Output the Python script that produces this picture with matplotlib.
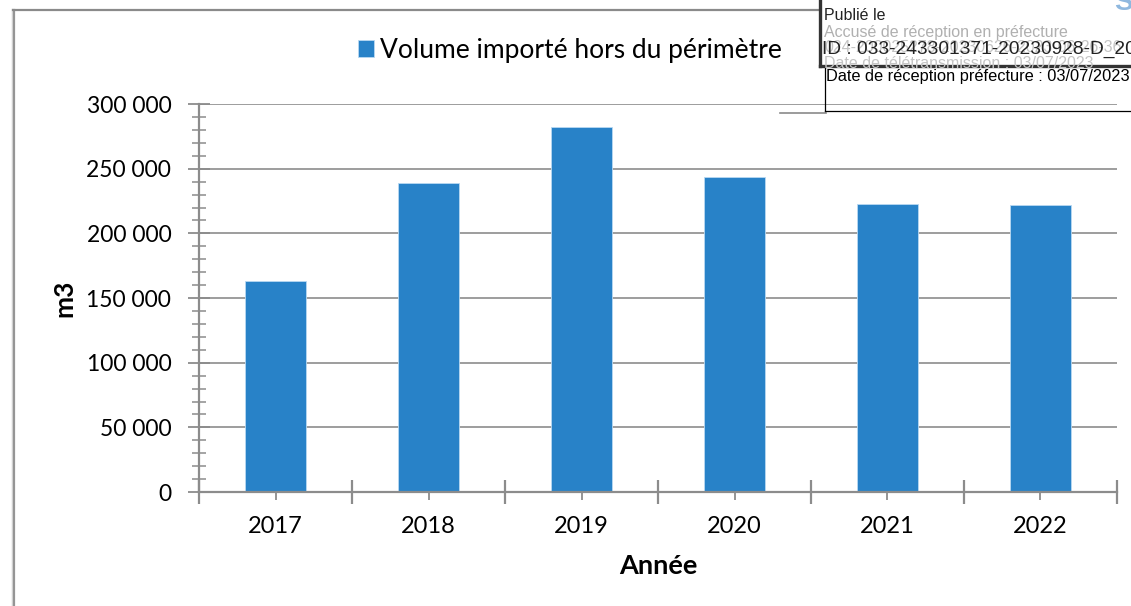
import matplotlib.pyplot as plt
from matplotlib.lines import Line2D
from matplotlib.ticker import FuncFormatter, MultipleLocator, FixedLocator

annees = ["2017", "2018", "2019", "2020", "2021", "2022"]
volumes = [163000, 239200, 282500, 243300, 222700, 221700]
serie = "Volume importé hors du périmètre"
y_ticks = [0, 50000, 100000, 150000, 200000, 250000, 300000]

bleu = "#2882c8"
gris = "#8c8c8c"

plt.rcParams["font.family"] = ["Lato", "DejaVu Sans"]

fig = plt.figure(figsize=(11.31, 6.06), dpi=100)
ax = fig.add_axes([0.176, 0.188, 0.8116, 0.6402])

x = range(len(annees))
ax.bar(x, volumes, width=0.4, color=bleu, edgecolor="#b9d9f2", linewidth=0.6,
       label=serie, zorder=3)

ax.set_xlim(-0.5, len(annees) - 0.5)
ax.set_ylim(0, 300000)
ax.set_yticks(y_ticks)
ax.yaxis.set_minor_locator(MultipleLocator(10000))
ax.yaxis.set_major_formatter(FuncFormatter(lambda v, p: f"{int(v):,}".replace(",", " ")))
ax.grid(axis="y", color=gris, linewidth=1.2, zorder=0)

# labels at category centres, long ticks at category boundaries
ax.set_xticks(list(x))
ax.set_xticklabels(annees)
ax.xaxis.set_minor_locator(FixedLocator([i - 0.5 for i in range(len(annees) + 1)]))

for s in ["top", "right"]:
    ax.spines[s].set_visible(False)
for s in ["left", "bottom"]:
    ax.spines[s].set_color(gris)
    ax.spines[s].set_linewidth(1.6)
    ax.spines[s].set_zorder(4)

ax.tick_params(axis="y", which="major", direction="inout", length=16, width=1.3,
               color=gris, labelsize=16.5, pad=12)
ax.tick_params(axis="y", which="minor", direction="inout", length=10, width=1.1, color=gris)
ax.tick_params(axis="x", which="major", direction="inout", length=11, width=1.3,
               color=gris, labelsize=17, pad=12)
ax.tick_params(axis="x", which="minor", direction="inout", length=17, width=1.6, color=gris)

ax.set_xlabel("Année", fontsize=19.5, fontweight="bold", labelpad=12)
ax.set_ylabel("m3", fontsize=19, fontweight="bold", labelpad=7)

fig.legend(loc="center", bbox_to_anchor=(0.504, 0.917), frameon=False, fontsize=19,
           handlelength=0.6, handleheight=0.6, handletextpad=0.25)

# chart frame
fig.add_artist(Line2D([0.0115, 0.0115], [0.0, 0.983], color="#d0d0d0", linewidth=2.5))
fig.add_artist(Line2D([0.0125, 0.0125], [0.0, 0.983], color="#8a8a8a", linewidth=1.2))
fig.add_artist(Line2D([0.0115, 0.725], [0.983, 0.983], color="#8a8a8a", linewidth=1.6))
fig.add_artist(Line2D([0.69, 0.73], [0.8135, 0.8135], color="#8a8a8a", linewidth=1.2))

# reception stamp
fig.add_artist(Line2D([0.725, 0.725], [0.891, 1.0], color="#333333", linewidth=2.4))
fig.add_artist(Line2D([0.725, 1.0], [0.891, 0.891], color="#333333", linewidth=2.4))
fig.add_artist(Line2D([0.7295, 0.7295], [0.891, 0.817], color="black", linewidth=0.9))
fig.add_artist(Line2D([0.7295, 1.0], [0.817, 0.817], color="black", linewidth=0.9))
stamp = dict(family=["Liberation Sans", "DejaVu Sans"], ha="left", va="center")
fig.text(0.7285, 0.974, "Publié le", fontsize=11.5, color="#222222", **stamp)
fig.text(0.7285, 0.946, "Accusé de réception en préfecture", fontsize=11.5, color="#b0b0b0", **stamp)
fig.text(0.7285, 0.921, "024-200025278-20230626-2023-06-26-36", fontsize=11.5, color="#c4c4c4", **stamp)
fig.text(0.7285, 0.896, "Date de télétransmission : 03/07/2023", fontsize=11.5, color="#c4c4c4", **stamp)
fig.text(0.7265, 0.919, "ID : 033-243301371-20230928-D_20", fontsize=13.8, color="#222222", **stamp)
fig.text(0.7300, 0.873, "Date de réception préfecture : 03/07/2023", fontsize=11.8, color="black", **stamp)
fig.text(0.985, 0.995, "S", fontsize=20, color="#8fb8df", fontweight="bold",
         family=["Liberation Sans", "DejaVu Sans"], ha="left", va="center")

fig.savefig("out.png", dpi=100)
